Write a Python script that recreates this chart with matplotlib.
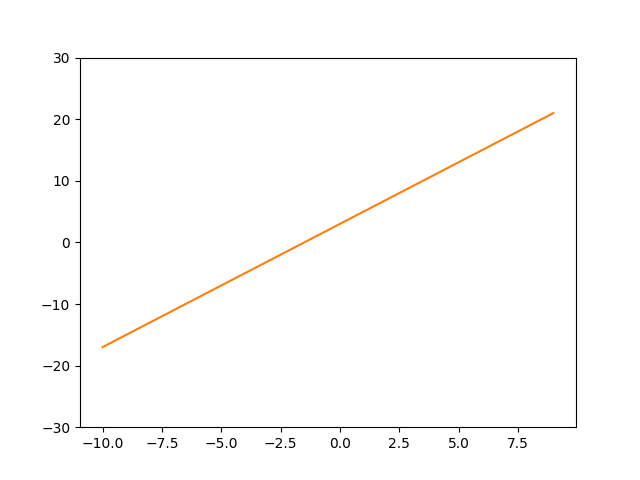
import matplotlib
matplotlib.use("Agg")
import matplotlib.pyplot as plt

# data
x = [-10, -9, -8, -7, -6, -5, -4, -3, -2, -1, 0, 1, 2, 3, 4, 5, 6, 7, 8, 9]
y = [-17, -15, -13, -11, -9, -7, -5, -3, -1, 1, 3, 5, 7, 9, 11, 13, 15, 17, 19, 21]

fig, ax = plt.subplots(figsize=(6.4, 4.8), dpi=100)
ax.plot(x, y, color="#ff7f0e")
ax.set_ylim(-30, 30)

fig.savefig("out.png")
